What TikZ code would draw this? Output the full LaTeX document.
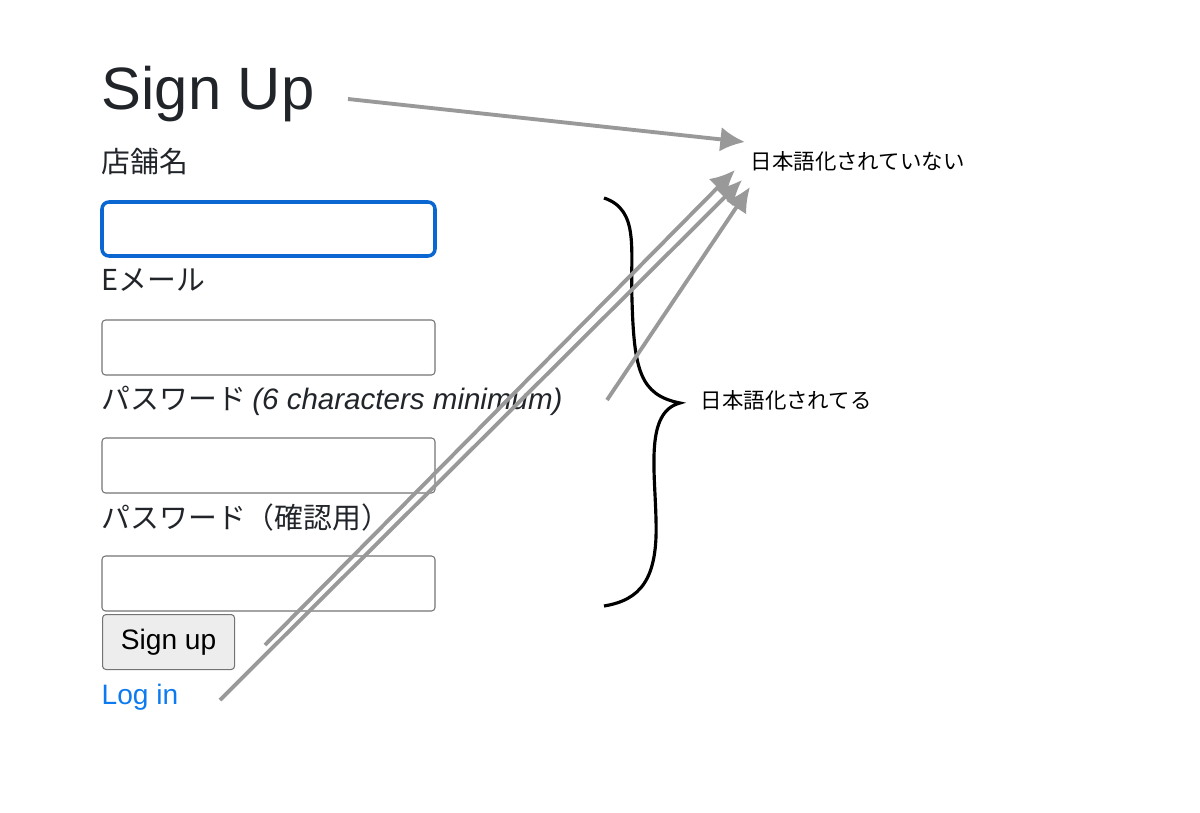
\documentclass[tikz,border=0pt]{standalone}
\usepackage{fontspec}
\setmainfont{Liberation Sans}
\newfontfamily\cjk{Noto Sans CJK JP}
\usetikzlibrary{positioning,arrows.meta}
\definecolor{formblue}{HTML}{0A66D0}
\definecolor{linkblue}{HTML}{0D7BF0}
\definecolor{arrowgray}{HTML}{999999}
\definecolor{ink}{HTML}{212529}
\tikzset{
  field/.style={draw=black!55, line width=.3pt, rounded corners=1pt},
  label/.style={anchor=base west, inner sep=0pt, text=ink, font=\fontsize{8.2}{9}\selectfont\cjk},
  note/.style={anchor=base west, inner sep=0pt, font=\fontsize{6.1}{7}\selectfont\cjk},
  pointer/.style={draw=arrowgray, line width=1.1pt, -{Latex[length=7pt,width=7pt]}}
}
\begin{document}
\begin{tikzpicture}[x=0.01cm,y=-0.01cm]
\useasboundingbox (0,0) rectangle (1200,812);
% title and labels
\node[anchor=base west, inner sep=0pt, text=ink, font=\fontsize{17}{20}\selectfont] (title) at (101,110) {Sign Up};
\node[label] (shop) at (101,172) {店舗名};
\node[label] (mail) at (101,290) {Eメール};
\node[label] (pw) at (101,409) {パスワード {\fontspec{Liberation Sans}\fontsize{8.4}{9}\selectfont\itshape (6 characters minimum)}};
\node[label] (pwc) at (101,528) {パスワード（確認用）};
% inputs
\draw[draw=formblue, line width=1pt, rounded corners=2pt] (102,202) rectangle (435,256);
\draw[field] (102,320) rectangle (435,375);
\draw[field] (102,438) rectangle (435,493);
\draw[field] (102,556) rectangle (435,611);
\node[field, fill=black!7, minimum width=1.32cm, minimum height=0.55cm, anchor=north west,
  font=\fontsize{8}{9}\selectfont] (signup) at (102,614) {Sign up};
\node[anchor=base west, inner sep=0pt, text=linkblue, font=\fontsize{8}{9}\selectfont] (login) at (101,704) {Log in};
% brace
\draw[line width=0.9pt] (604,198) .. controls (640,210) and (630,250) .. (632,300)
  .. controls (634,370) and (640,395) .. (680,403)
  .. controls (645,412) and (655,470) .. (656,520)
  .. controls (658,580) and (640,600) .. (604,606);
\node[note] (done) at (700,408) {日本語化されてる};
\node[note] (todo) at (750,169) {日本語化されていない};
% arrows
\coordinate (a1) at (348,99);
\coordinate (a2) at (265,645);
\coordinate (a3) at (220,700);
\coordinate (a4) at (607,400);
\draw[pointer] (a1) -- (745,142);
\draw[pointer] (a2) -- (735,170);
\draw[pointer] (a3) -- (742,180);
\draw[pointer] (a4) -- (750,187);
\end{tikzpicture}
\end{document}
